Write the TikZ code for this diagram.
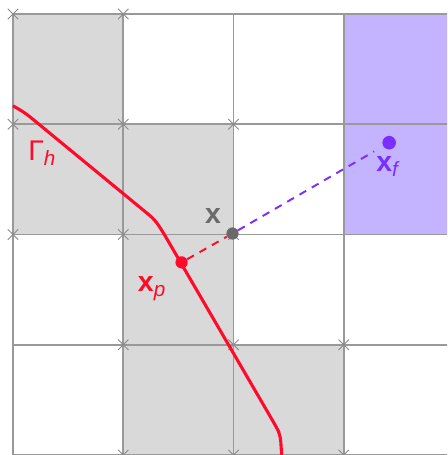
\documentclass[tikz,border=0pt]{standalone}
\usepackage{fontspec}
\setmainfont{Liberation Sans}
\definecolor{cutgray}{HTML}{D9D9D9}
\definecolor{fluidfill}{HTML}{C4B3FF}
\definecolor{fluidpt}{HTML}{7A2EFF}
\definecolor{ifacered}{HTML}{FF0A2A}
\definecolor{gridgray}{HTML}{999999}
\definecolor{ptgray}{HTML}{6A6A6A}
\newcommand{\subidx}[1]{\raisebox{-0.35ex}{\fontsize{16}{18}\selectfont\itshape #1}}

\begin{document}
\begin{tikzpicture}[
x=3cm, y=3cm,
cutcell/.style={fill=cutgray},
fluidcell/.style={fill=fluidfill},
gridline/.style={draw=gridgray, line width=1.5pt},
vmark/.style={draw=gridgray!90!black, line width=0.8pt},
iface/.style={draw=ifacered, line width=2.4pt, rounded corners=5pt},
dot/.style={circle, inner sep=0pt, minimum size=9.5pt},
probe/.style={line width=1.5pt, dash pattern=on 6pt off 5pt},
lbl/.style={anchor=base west, inner sep=0pt, font=\fontsize{22}{24}\selectfont}
]
\useasboundingbox (-0.118,0) rectangle (3.937,4.127);

\begin{scope}
\clip (-0.118,0) rectangle (3.937,4.127);
% cut cells and the fluid cell
\foreach \i/\j in {0/3,0/2,1/2,1/1,1/0,2/0}
  \fill[cutcell] (\i,\j) rectangle ++(1,1);
\fill[fluidcell] (3,2) rectangle (4.2,4);
% grid
\foreach \k in {0,...,4} {
  \draw[gridline] (\k,-0.2) -- (\k,4);
  \draw[gridline] (0,\k) -- (4.2,\k);
}
% vertices of the cut cells
\foreach \i/\j in {0/4,1/4,0/3,1/3,2/3,0/2,1/2,2/2,1/1,2/1,3/1,1/0,2/0,3/0}
  \draw[vmark] (\i,\j) ++(-4pt,-4pt) -- ++(8pt,8pt) ++(0,-8pt) -- ++(-8pt,8pt);
% interface
\draw[iface] (0,3.167) -- (0.109,3.104) -- (1.285,2.136) -- (1.357,2.027)
  -- (2.389,0.253) -- (2.425,0.181) -- (2.443,-0.1);
\end{scope}

\node[dot, fill=ptgray] (x) at (1.991,2.009) {};
\node[dot, fill=ifacered] (xp) at (1.529,1.747) {};
\node[dot, fill=fluidpt, minimum size=10.5pt] (xf) at (3.412,2.833) {};

\draw[probe, draw=ifacered] (xp) -- (x);
\draw[probe, draw=fluidpt, shorten >=8pt] (x) -- (xf);

\node[lbl, text=ifacered] (gam) at (0.136,2.670) {Γ\subidx{h}};
\node[lbl, text=ptgray] (xl) at (1.74,2.100) {\textbf{x}};
\node[lbl, text=ifacered] (xpl) at (1.131,1.484) {\textbf{x}\subidx{p}};
\node[lbl, text=fluidpt] (xfl) at (3.294,2.570) {\textbf{x}\subidx{f}};
\end{tikzpicture}
\end{document}
